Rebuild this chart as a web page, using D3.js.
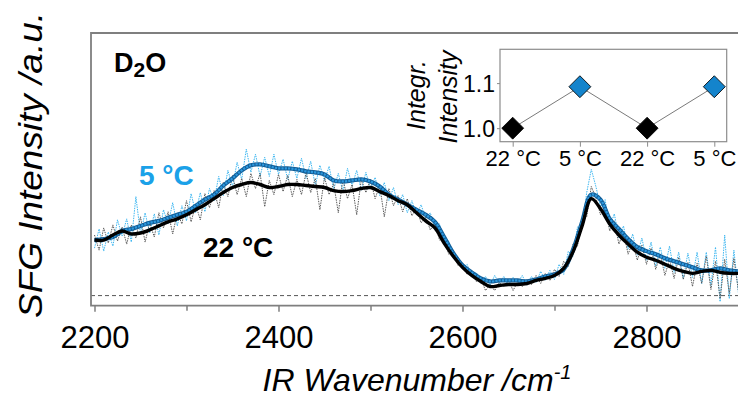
<!DOCTYPE html>
<html>
<head>
<meta charset="utf-8">
<script src="https://cdn.jsdelivr.net/npm/d3@7"></script>
<style>
  body { margin: 0; background: #fff; }
  svg { display: block; }
  text { font-family: "Liberation Sans", Arial, Helvetica, sans-serif; }
</style>
</head>
<body>
<svg id="chart" width="738" height="397"></svg>
<script>
// Smoothed SFG spectra on a 10 cm-1 grid (2200 ... 2900 cm-1)
const smoothStart = 2200, smoothStep = 10;
const smooth22 = [0.55,0.55,0.60,0.64,0.61,0.62,0.65,0.69,0.73,0.76,
  0.80,0.85,0.90,0.96,1.02,1.07,1.10,1.12,1.10,1.07,
  1.08,1.10,1.10,1.09,1.08,1.07,1.04,1.03,1.04,1.06,
  1.07,1.03,0.99,0.94,0.90,0.82,0.74,0.67,0.52,0.39,
  0.28,0.20,0.14,0.09,0.10,0.11,0.11,0.12,0.15,0.17,
  0.20,0.27,0.43,0.69,0.96,0.86,0.71,0.60,0.51,0.43,
  0.38,0.35,0.31,0.27,0.24,0.22,0.24,0.25,0.23,0.22,
  0.22];
const smooth5 = [0.55,0.56,0.58,0.64,0.66,0.69,0.72,0.74,0.77,0.80,
  0.83,0.89,0.95,1.00,1.09,1.16,1.24,1.29,1.30,1.28,
  1.26,1.26,1.25,1.23,1.22,1.20,1.14,1.13,1.14,1.15,
  1.13,1.08,1.00,0.95,0.90,0.85,0.80,0.73,0.58,0.42,
  0.30,0.23,0.17,0.14,0.15,0.15,0.15,0.14,0.16,0.19,
  0.21,0.26,0.45,0.73,1.00,0.95,0.76,0.66,0.56,0.48,
  0.44,0.41,0.37,0.34,0.31,0.28,0.25,0.25,0.27,0.25,
  0.24];

// Raw (unsmoothed) spectra on a 5 cm-1 grid (2200 ... 2900 cm-1)
const rawStart = 2200, rawStep = 5;
const raw22 = [0.60,0.45,0.67,0.52,0.70,0.54,0.68,0.51,0.70,0.57,
  0.78,0.53,0.72,0.58,0.82,0.67,0.83,0.61,0.82,0.71,
  0.94,0.73,0.90,0.75,1.01,0.87,1.04,0.87,1.12,0.98,
  1.19,1.00,1.16,0.98,1.21,1.06,1.21,0.88,1.14,1.00,
  1.20,1.03,1.19,0.98,1.15,1.00,1.22,1.02,1.16,0.85,
  1.17,1.00,1.11,0.82,1.15,0.96,1.10,0.80,1.15,1.02,
  1.15,0.96,1.09,0.78,1.06,0.89,0.99,0.83,0.96,0.79,
  0.87,0.72,0.78,0.65,0.72,0.55,0.56,0.41,0.42,0.30,
  0.31,0.21,0.24,0.14,0.17,0.05,0.11,0.05,0.13,0.09,
  0.15,0.05,0.14,0.09,0.16,0.11,0.20,0.12,0.22,0.15,
  0.26,0.19,0.34,0.29,0.51,0.49,0.78,0.78,1.08,0.97,
  0.80,0.87,0.64,0.74,0.51,0.63,0.41,0.53,0.35,0.50,
  0.31,0.47,0.26,0.41,0.20,0.36,0.17,0.38,0.16,0.33,
  0.09,0.32,0.12,0.39,0.06,0.34,-0.03,0.36,0.02,0.37,
  0.04];
const raw5 = [0.47,0.66,0.44,0.63,0.49,0.75,0.59,0.76,0.53,0.98,
  0.61,0.82,0.62,0.81,0.60,0.85,0.71,0.92,0.69,0.89,
  0.74,1.01,0.82,1.02,0.83,1.06,0.94,1.18,0.99,1.24,
  1.08,1.32,1.15,1.45,1.22,1.40,1.18,1.37,1.18,1.40,
  1.20,1.35,1.15,1.33,1.16,1.36,1.16,1.33,1.09,1.29,
  1.14,1.28,1.05,1.21,1.03,1.26,1.09,1.24,1.04,1.22,
  1.06,1.17,0.99,1.12,0.94,1.07,0.90,1.00,0.82,0.94,
  0.80,0.90,0.76,0.82,0.67,0.71,0.54,0.54,0.37,0.39,
  0.27,0.31,0.19,0.23,0.12,0.19,0.10,0.20,0.12,0.19,
  0.10,0.18,0.13,0.20,0.10,0.19,0.13,0.24,0.15,0.25,
  0.16,0.31,0.21,0.44,0.39,0.68,0.68,1.02,1.25,1.08,
  0.88,0.95,0.68,0.81,0.57,0.69,0.46,0.61,0.40,0.57,
  0.35,0.53,0.29,0.48,0.27,0.49,0.23,0.43,0.17,0.42,
  0.18,0.43,0.12,0.43,0.10,0.48,-0.06,0.60,-0.03,0.45,
  0.02];

const xTicksMajor = [2200, 2400, 2600, 2800];
const xTicksMinor = [2300, 2500, 2700];

// Inset: integrated intensity for alternating temperatures
const insetLabels = ["22 °C", "5 °C", "22 °C", "5 °C"];
const insetValues = [1.0, 1.092, 1.0, 1.092];
const insetTicks = [1.0, 1.1];

(function draw() {
  const BLUE_TEXT = "#1ba1e8";
  const BLUE_RAW = "#3cb6f0";
  const FRAME = "#7f7f7f";

  const svg = d3.select("#chart");

  // ---- main panel ----
  const pL = 91, pR = 738.5, pT = 33, pB = 305.7;
  const x = d3.scaleLinear().domain([2196.2, 2900]).range([pL, pR]);
  const y = d3.scaleLinear().domain([-0.1, 2.6]).range([pB, pT]);

  svg.append("defs").append("clipPath").attr("id", "plotClip")
    .append("rect").attr("x", pL).attr("y", pT)
    .attr("width", pR - pL).attr("height", pB - pT);

  const toPoints = (arr, start, step) => arr.map((v, i) => [start + i * step, v]);

  const rawLine = d3.line().x(d => x(d[0])).y(d => y(d[1]));
  const smoothLine = d3.line().x(d => x(d[0])).y(d => y(d[1])).curve(d3.curveCatmullRom.alpha(0.5));

  const plot = svg.append("g").attr("clip-path", "url(#plotClip)");

  // zero-signal reference
  plot.append("line")
    .attr("x1", pL).attr("x2", pR)
    .attr("y1", y(0)).attr("y2", y(0))
    .attr("stroke", "#555").attr("stroke-width", 1)
    .attr("stroke-dasharray", "4,3");

  // raw traces (dotted)
  plot.append("path").datum(toPoints(raw5, rawStart, rawStep))
    .attr("d", rawLine).attr("fill", "none")
    .attr("stroke", BLUE_RAW).attr("stroke-width", 1)
    .attr("stroke-dasharray", "1.5,1");
  plot.append("path").datum(toPoints(raw22, rawStart, rawStep))
    .attr("d", rawLine).attr("fill", "none")
    .attr("stroke", "#5a5a5a").attr("stroke-width", 1)
    .attr("stroke-dasharray", "1.5,1");

  // smoothed traces
  const s5 = toPoints(smooth5, smoothStart, smoothStep);
  plot.append("path").datum(s5)
    .attr("d", smoothLine).attr("fill", "none")
    .attr("stroke", "#125e98").attr("stroke-width", 4.2)
    .attr("stroke-linejoin", "round");
  plot.append("path").datum(s5)
    .attr("d", smoothLine).attr("fill", "none")
    .attr("stroke", "#2c98de").attr("stroke-width", 2.2)
    .attr("stroke-dasharray", "2.2,1.1");
  plot.append("path").datum(toPoints(smooth22, smoothStart, smoothStep))
    .attr("d", smoothLine).attr("fill", "none")
    .attr("stroke", "#000").attr("stroke-width", 3.4)
    .attr("stroke-linejoin", "round");

  // frame (top, left, bottom)
  svg.append("path")
    .attr("d", `M${pR},${pT}H${pL}V${pB}H${pR}`)
    .attr("fill", "none").attr("stroke", FRAME).attr("stroke-width", 1.8);

  // x axis ticks and labels
  const xAxis = svg.append("g").attr("transform", `translate(0,${pB})`);
  xAxis.call(d3.axisBottom(x).tickValues(xTicksMajor).tickSize(6).tickFormat(d3.format("d")));
  xAxis.select(".domain").remove();
  xAxis.selectAll(".tick line").attr("stroke", FRAME).attr("stroke-width", 1.5);
  xAxis.selectAll(".tick text")
    .attr("y", 348 - pB).attr("dy", 0)
    .attr("font-size", 31).attr("fill", "#000");
  const xMinor = svg.append("g").attr("transform", `translate(0,${pB})`);
  xMinor.call(d3.axisBottom(x).tickValues(xTicksMinor).tickSize(5).tickFormat(""));
  xMinor.select(".domain").remove();
  xMinor.selectAll(".tick line").attr("stroke", FRAME).attr("stroke-width", 1.5);

  // axis titles
  const xt = svg.append("text")
    .attr("x", 417).attr("y", 391)
    .attr("text-anchor", "middle").attr("font-size", 32).attr("font-style", "italic");
  xt.append("tspan").text("IR Wavenumber /cm");
  xt.append("tspan").attr("font-size", 20).attr("dy", -12).text("-1");

  svg.append("text")
    .attr("transform", "translate(42,165) rotate(-90) scale(1.12,1)")
    .attr("text-anchor", "middle").attr("font-size", 33).attr("font-style", "italic")
    .text("SFG Intensity /a.u.");

  // annotations
  const d2o = svg.append("text").attr("x", 114).attr("y", 72)
    .attr("font-size", 27).attr("font-weight", "bold");
  d2o.append("tspan").text("D");
  d2o.append("tspan").attr("font-size", 21).attr("dy", 5).text("2");
  d2o.append("tspan").attr("dy", -5).text("O");

  svg.append("text").attr("x", 139).attr("y", 185)
    .attr("font-size", 28).attr("font-weight", "bold").attr("fill", BLUE_TEXT)
    .text("5 °C");
  svg.append("text").attr("x", 203).attr("y", 257)
    .attr("font-size", 28).attr("font-weight", "bold").attr("fill", "#000")
    .text("22 °C");

  // ---- inset panel ----
  const iL = 500, iR = 726.7, iT = 49.3, iB = 141.7;
  const xi = d3.scalePoint().domain(d3.range(insetLabels.length)).range([512.7, 714.3]);
  const yi = d3.scaleLinear().domain([0.97, 1.175]).range([iB, iT]);

  svg.append("rect").attr("x", iL).attr("y", iT)
    .attr("width", iR - iL).attr("height", iB - iT)
    .attr("fill", "#fff").attr("stroke", "#8c8c8c").attr("stroke-width", 1.2);

  const iy = svg.append("g").attr("transform", `translate(${iL},0)`);
  iy.call(d3.axisLeft(yi).tickValues(insetTicks).tickSize(3).tickPadding(2).tickFormat(d3.format(".1f")));
  iy.select(".domain").remove();
  iy.selectAll(".tick line").attr("stroke", "#8c8c8c");
  iy.selectAll(".tick text").attr("font-size", 23).attr("fill", "#000").attr("dy", "0.36em");

  const ix = svg.append("g").attr("transform", `translate(0,${iB})`);
  ix.call(d3.axisBottom(xi).tickSize(5).tickFormat(i => insetLabels[i]));
  ix.select(".domain").remove();
  ix.selectAll(".tick line").attr("stroke", "#8c8c8c");
  ix.selectAll(".tick text").attr("y", 166.5 - iB).attr("dy", 0)
    .attr("font-size", 22).attr("fill", "#000");

  const insetPts = insetValues.map((v, i) => [xi(i), yi(v)]);
  svg.append("path").datum(insetPts)
    .attr("d", d3.line()).attr("fill", "none")
    .attr("stroke", "#7a7a7a").attr("stroke-width", 1);

  const diamond = d3.symbol().type(d3.symbolSquare).size(240);
  svg.selectAll(".dia").data(insetValues).join("path")
    .attr("class", "dia")
    .attr("d", diamond)
    .attr("transform", (v, i) => `translate(${xi(i)},${yi(v)}) rotate(45)`)
    .attr("fill", (v, i) => insetLabels[i].startsWith("5") ? "#1484cc" : "#000")
    .attr("stroke", "#000").attr("stroke-width", 0.8);

  // inset y title (two lines)
  svg.append("text")
    .attr("transform", "translate(425,95) rotate(-90)")
    .attr("text-anchor", "middle").attr("font-size", 25).attr("font-style", "italic")
    .text("Integr.");
  svg.append("text")
    .attr("transform", "translate(457,97) rotate(-90)")
    .attr("text-anchor", "middle").attr("font-size", 25).attr("font-style", "italic")
    .text("Intensity");
})();
</script>
</body>
</html>
